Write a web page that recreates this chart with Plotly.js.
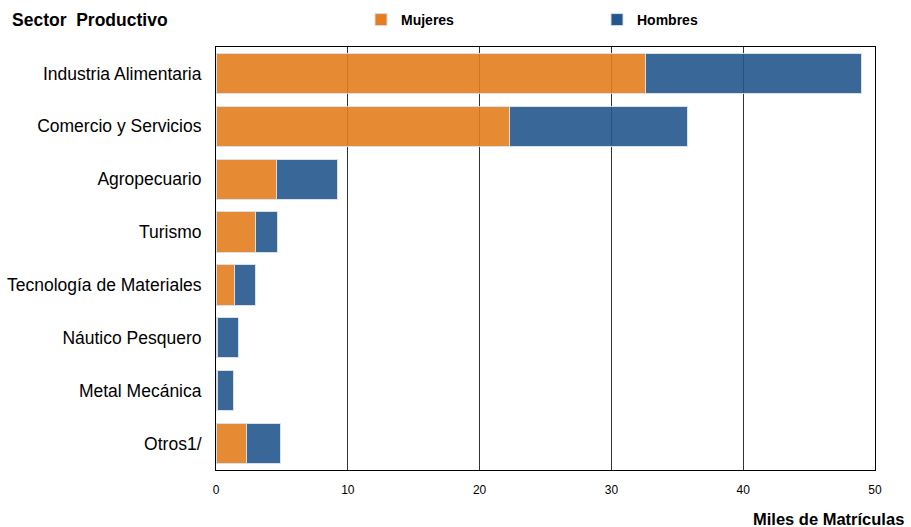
<!DOCTYPE html>
<html>
<head>
<meta charset="utf-8">
<script src="https://cdn.plot.ly/plotly-3.0.1.min.js"></script>
<style>html,body{margin:0;padding:0;background:#fff;}#chart{width:911px;height:527px;}</style>
</head>
<body>
<div id="chart"></div>
<script>
const categories = ["Industria Alimentaria", "Comercio y Servicios", "Agropecuario", "Turismo", "Tecnología de Materiales", "Náutico Pesquero", "Metal Mecánica", "Otros1/"];
const mujeres = [32.6, 22.3, 4.6, 3.0, 1.4, 0.1, 0.1, 2.3];
const hombres = [16.4, 13.5, 4.6, 1.7, 1.6, 1.6, 1.2, 2.6];
const xTicks = [0, 10, 20, 30, 40, 50];

const FONT = "Liberation Sans, Arial, Helvetica, sans-serif";

const traces = [
  {type: "bar", orientation: "h", name: "Mujeres", y: categories, x: mujeres,
   marker: {color: "rgb(229,126,31)", opacity: 0.9, line: {color: "#d3dde9", width: 1}}, hoverinfo: "x+name"},
  {type: "bar", orientation: "h", name: "Hombres", y: categories, x: hombres,
   marker: {color: "rgb(36,87,141)", opacity: 0.9, line: {color: "#d3dde9", width: 1}}, hoverinfo: "x+name"}
];

const layout = {
  width: 911, height: 527,
  margin: {l: 216, r: 36, t: 47, b: 57},
  barmode: "stack", bargap: 0.24,
  paper_bgcolor: "#fff", plot_bgcolor: "#fff",
  font: {family: FONT, color: "#000"},
  xaxis: {range: [0, 50], tickvals: xTicks, ticktext: xTicks.map(String), showgrid: true, gridcolor: "#333", gridwidth: 1,
          zeroline: false, showline: true, mirror: true, linecolor: "#000", linewidth: 1, ticks: "",
          tickfont: {size: 12, family: FONT, color: "#000"}, ticklabelstandoff: 9},
  yaxis: {autorange: "reversed", showgrid: false, zeroline: false, showline: true, mirror: true, linecolor: "#000", linewidth: 1,
          ticks: "", tickfont: {size: 17.5, family: FONT, color: "#000"}, ticklabelstandoff: 10},
  showlegend: true,
  legend: {orientation: "h", xref: "container", x: 361 / 911, xanchor: "left", yref: "container", y: 1 - 20 / 527, yanchor: "middle",
           font: {size: 14, family: FONT, color: "#000", weight: "bold"}, entrywidth: 191, entrywidthmode: "pixels",
           traceorder: "normal", bgcolor: "rgba(0,0,0,0)"},
  annotations: [
    {text: "<b>Sector\u00a0 Productivo</b>", xref: "paper", yref: "paper", x: -0.3126, y: 1.064, xanchor: "left", yanchor: "middle",
     showarrow: false, font: {size: 17.5, family: FONT, color: "#000"}},
    {text: "<b>Miles de Matrículas</b>", xref: "paper", yref: "paper", x: (906 - 216) / 659, y: -0.116, xanchor: "right", yanchor: "middle",
     showarrow: false, font: {size: 16.5, family: FONT, color: "#000"}}
  ]
};

Plotly.newPlot("chart", traces, layout, {displayModeBar: false, staticPlot: true});
</script>
</body>
</html>
